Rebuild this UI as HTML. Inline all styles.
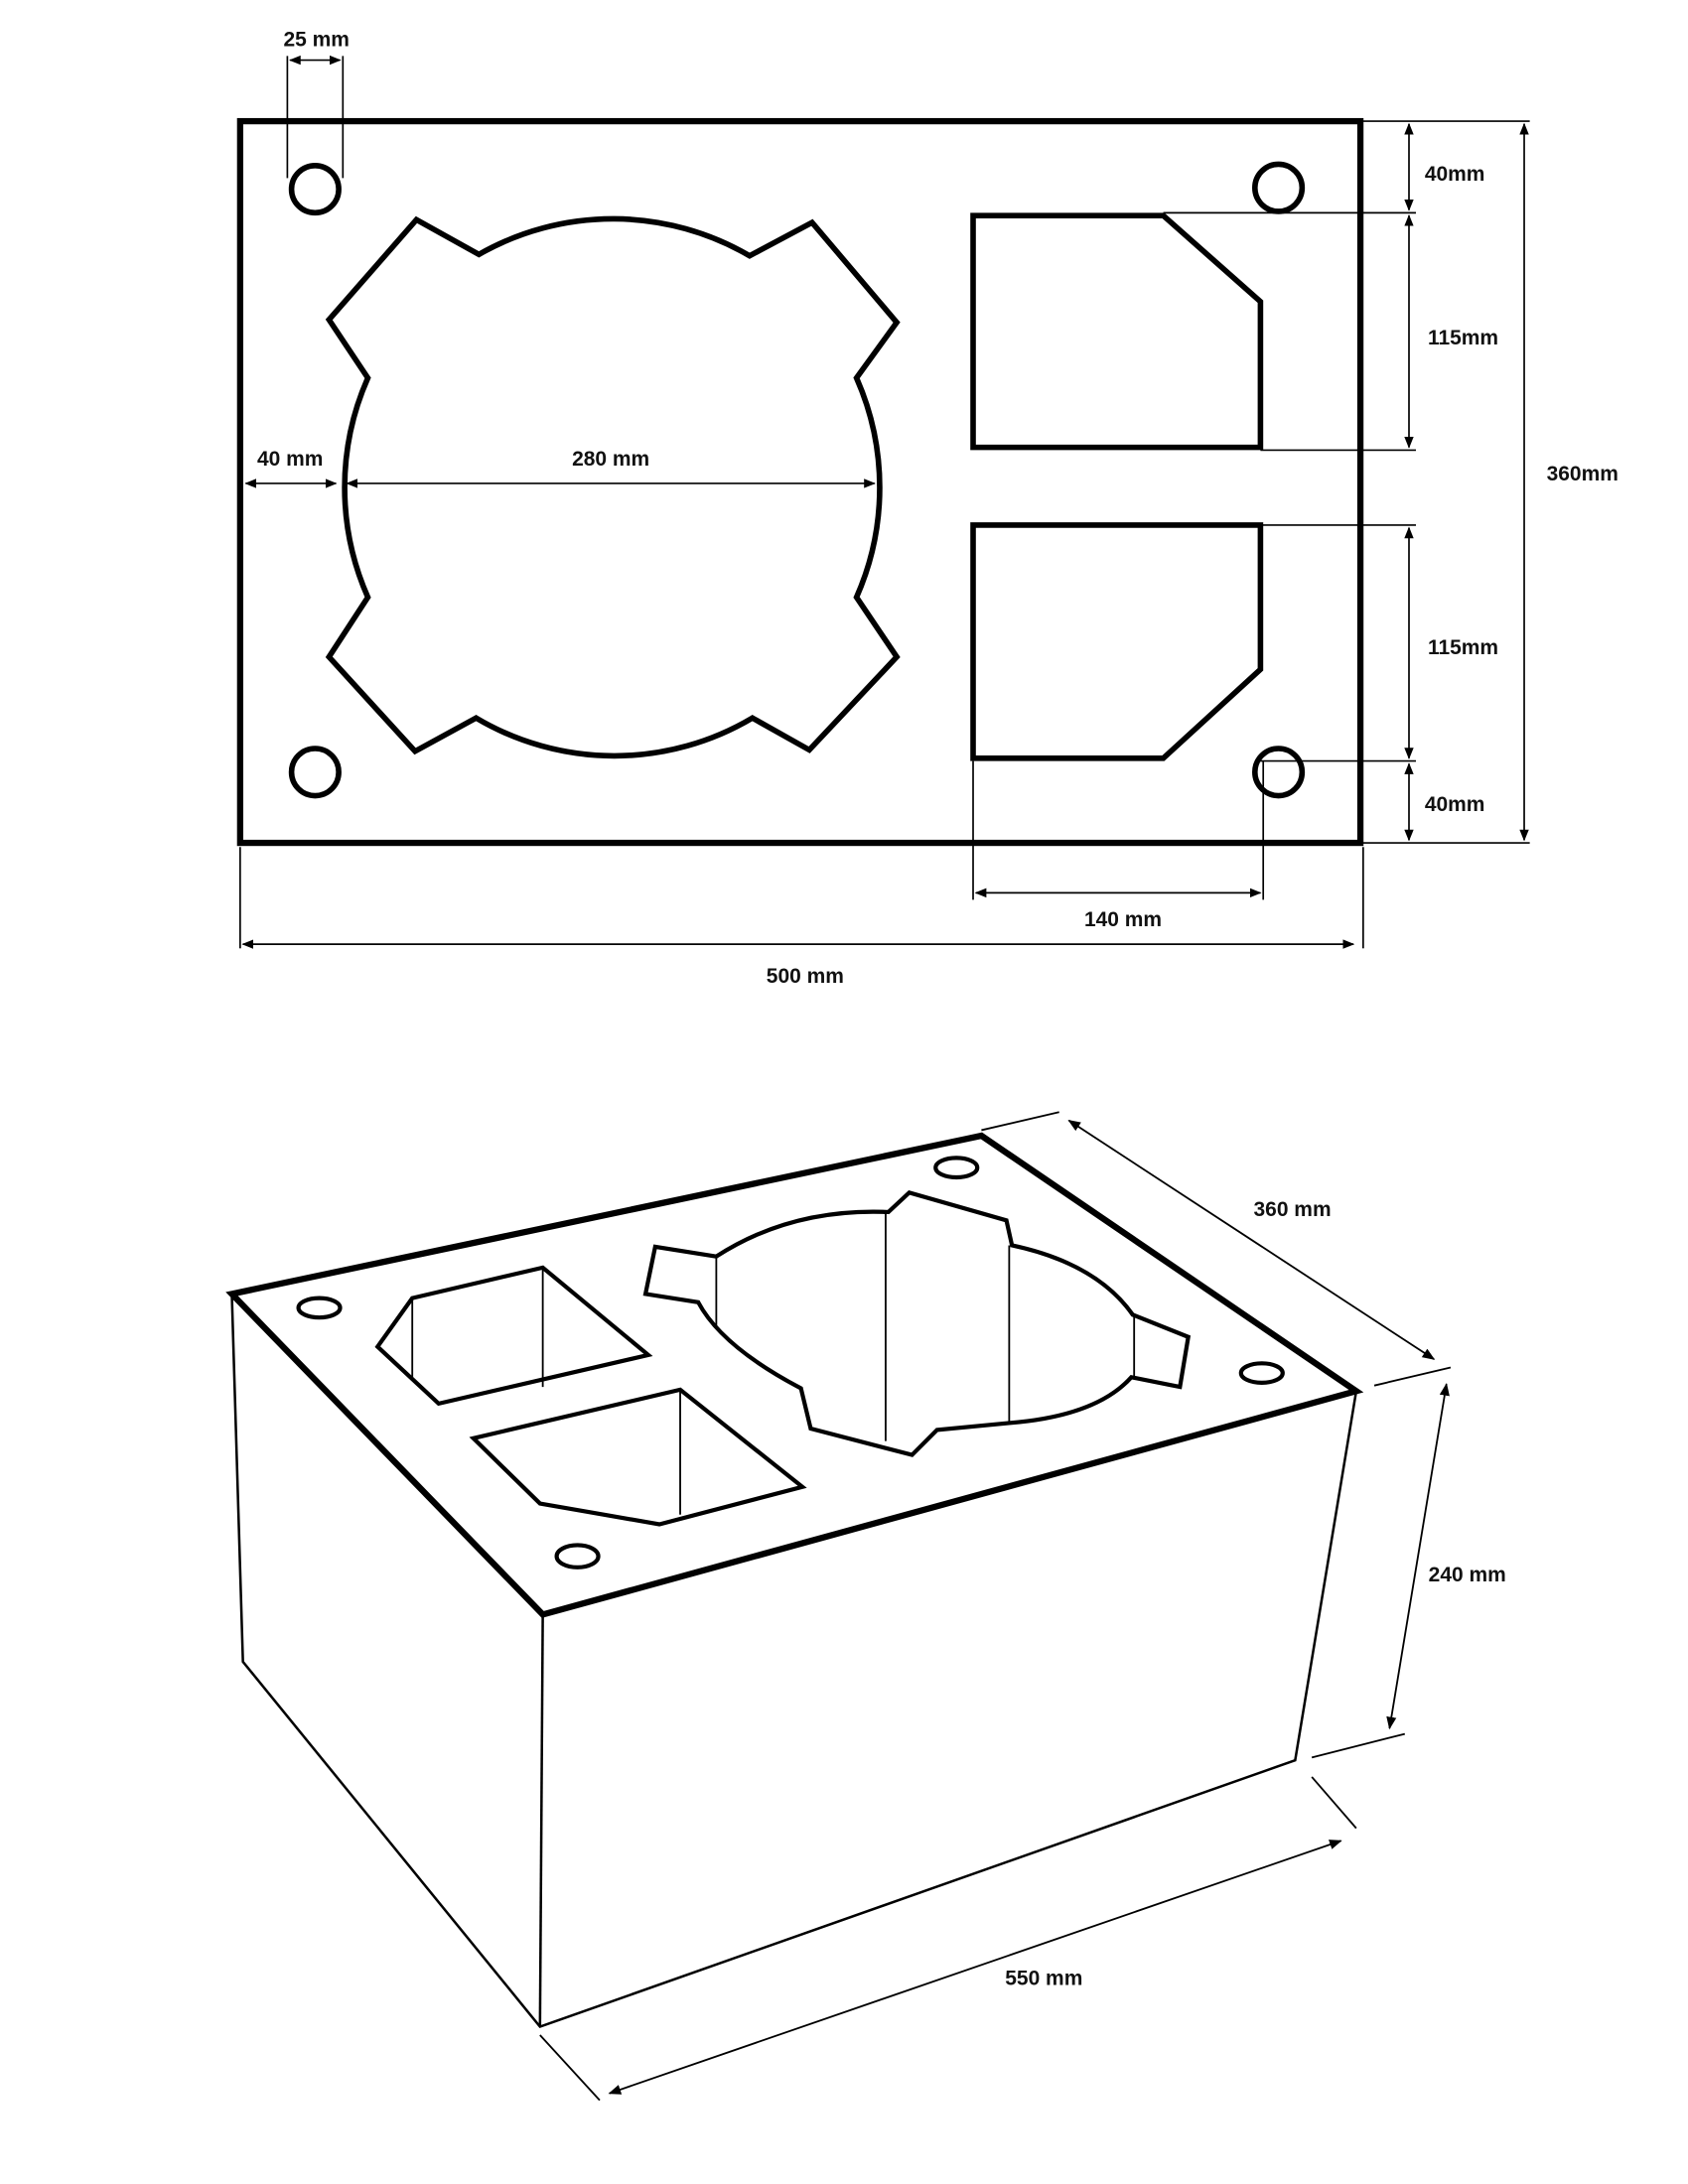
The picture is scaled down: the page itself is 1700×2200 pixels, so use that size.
<!DOCTYPE html>
<html><head><meta charset="utf-8"><style>
html,body{margin:0;padding:0;background:#fff;}
svg{display:block;}
text{font-family:"Liberation Sans",sans-serif;font-size:15px;font-weight:bold;fill:#111;text-anchor:middle;}
</style></head><body>
<svg width="1700" height="2200" viewBox="0 0 1216 1573" xmlns="http://www.w3.org/2000/svg">
<defs>
<marker id="a" viewBox="0 0 10 10" refX="9" refY="5" markerWidth="7" markerHeight="7" orient="auto-start-reverse"><path d="M0,1 L10,5 L0,9 Z" fill="#000"/></marker>
</defs>
<g fill="none" stroke="#000" stroke-linejoin="miter">
<!-- top drawing -->
<rect x="173" y="87" width="807" height="520" stroke-width="4.5"/>
<g stroke-width="4">
<circle cx="227" cy="136" r="17"/><circle cx="921" cy="135" r="17"/>
<circle cx="227" cy="556" r="17"/><circle cx="921" cy="556" r="17"/>
<path d="M300,158 L345,183 A195,195 0 0 1 540,184 L585,160 L646,232 L617,272 A195,195 0 0 1 617,430 L646,473 L583,540 L542,517 A195,195 0 0 1 343,517 L299,541 L237,473 L265,430 A195,195 0 0 1 265,272 L237,230 Z"/>
<path d="M701,155 L838,155 L908,217 L908,322 L701,322 Z"/>
<path d="M701,378 L908,378 L908,482 L838,546 L701,546 Z"/>
</g>
<g stroke-width="1.2">
<line x1="207" y1="40" x2="207" y2="128"/><line x1="247" y1="40" x2="247" y2="128"/>
<line x1="209" y1="43" x2="245" y2="43" marker-start="url(#a)" marker-end="url(#a)"/>
<line x1="982" y1="87" x2="1102" y2="87"/><line x1="838" y1="153" x2="1020" y2="153"/>
<line x1="908" y1="324" x2="1020" y2="324"/><line x1="908" y1="378" x2="1020" y2="378"/>
<line x1="908" y1="548" x2="1020" y2="548"/><line x1="982" y1="607" x2="1102" y2="607"/>
<line x1="1015" y1="89" x2="1015" y2="151" marker-start="url(#a)" marker-end="url(#a)"/>
<line x1="1015" y1="155" x2="1015" y2="322" marker-start="url(#a)" marker-end="url(#a)"/>
<line x1="1015" y1="380" x2="1015" y2="546" marker-start="url(#a)" marker-end="url(#a)"/>
<line x1="1015" y1="550" x2="1015" y2="605" marker-start="url(#a)" marker-end="url(#a)"/>
<line x1="1098" y1="89" x2="1098" y2="605" marker-start="url(#a)" marker-end="url(#a)"/>
<line x1="173" y1="610" x2="173" y2="683"/><line x1="982" y1="610" x2="982" y2="683"/>
<line x1="701" y1="548" x2="701" y2="648"/><line x1="910" y1="548" x2="910" y2="648"/>
<line x1="703" y1="643" x2="908" y2="643" marker-start="url(#a)" marker-end="url(#a)"/>
<line x1="175" y1="680" x2="975" y2="680" marker-start="url(#a)" marker-end="url(#a)"/>
<line x1="177" y1="348" x2="242" y2="348" marker-start="url(#a)" marker-end="url(#a)"/>
<line x1="250" y1="348" x2="630" y2="348" marker-start="url(#a)" marker-end="url(#a)"/>
</g>
<!-- 3D box -->
<g stroke-width="1.8">
<path d="M167,932 L175,1197 L389,1460 L933,1268 L977,1002"/>
<line x1="391" y1="1163" x2="389" y2="1460"/>
</g>
<path d="M167,932 L707,818 L977,1002 L391,1163 Z" stroke-width="4.5"/>
<g stroke-width="3">
<ellipse cx="230" cy="942" rx="15" ry="7"/><ellipse cx="689" cy="841" rx="15" ry="7"/>
<ellipse cx="909" cy="989" rx="15" ry="7"/><ellipse cx="416" cy="1121" rx="15" ry="8"/>
<path d="M297,935 L391,913 L467,976 L316,1011 L272,970 Z"/>
<path d="M341,1036 L490,1001 L578,1071 L475,1098 L389,1083 Z"/>
<path d="M465,932 L472,898 L516,905 Q570,870 640,873 L655,859 L725,879 L729,897 Q790,910 816,947 L856,963 L850,999 L815,992 Q790,1020 727,1025 L675,1030 L657,1048 L584,1029 L577,1000 Q520,970 503,938 Z"/>
</g>
<g stroke-width="1.3">
<line x1="391" y1="913" x2="391" y2="999"/><line x1="297" y1="935" x2="297" y2="992"/>
<line x1="490" y1="1001" x2="490" y2="1091"/>
<line x1="516" y1="905" x2="516" y2="955"/><line x1="638" y1="873" x2="638" y2="1038"/>
<line x1="727" y1="897" x2="727" y2="1025"/><line x1="817" y1="947" x2="817" y2="992"/>
<line x1="707" y1="814" x2="763" y2="801"/><line x1="990" y1="998" x2="1045" y2="985"/>
<line x1="770" y1="807" x2="1033" y2="979" marker-start="url(#a)" marker-end="url(#a)"/>
<line x1="1042" y1="997" x2="1001" y2="1245" marker-start="url(#a)" marker-end="url(#a)"/>
<line x1="945" y1="1266" x2="1012" y2="1249"/>
<line x1="389" y1="1466" x2="432" y2="1513"/><line x1="945" y1="1280" x2="977" y2="1317"/>
<line x1="439" y1="1508" x2="966" y2="1326" marker-start="url(#a)" marker-end="url(#a)"/>
</g>
</g>
<text x="228" y="33">25 mm</text>
<text x="1048" y="130">40mm</text>
<text x="1054" y="248">115mm</text>
<text x="1140" y="346">360mm</text>
<text x="1054" y="471">115mm</text>
<text x="1048" y="584">40mm</text>
<text x="809" y="667">140 mm</text>
<text x="580" y="708">500 mm</text>
<text x="209" y="335">40 mm</text>
<text x="440" y="335">280 mm</text>
<text x="931" y="876">360 mm</text>
<text x="1057" y="1139">240 mm</text>
<text x="752" y="1430">550 mm</text>
</svg>
</body></html>
